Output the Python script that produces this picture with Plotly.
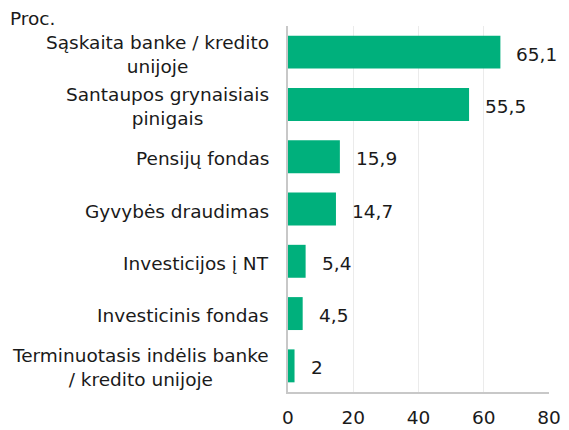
import plotly.graph_objects as go

categories = [
    "Sąskaita banke / kredito<br>unijoje",
    "Santaupos grynaisiais<br>pinigais",
    "Pensijų fondas",
    "Gyvybės draudimas",
    "Investicijos į NT",
    "Investicinis fondas",
    "Terminuotasis indėlis banke<br>/ kredito unijoje",
]
values = [65.1, 55.5, 15.9, 14.7, 5.4, 4.5, 2]
value_labels = ["65,1", "55,5", "15,9", "14,7", "5,4", "4,5", "2"]
x_ticks = [0, 20, 40, 60, 80]

FONT = "DejaVu Sans, Verdana, sans-serif"
FS = 18.5
GREEN = "#00B07C"
TXT = "#1a1a1a"

# page body has an 8px margin; keep the figure inside the visible content width
W, H = 553, 422
L, R, T, B = 280, 12, 18, 38
PW = W - L - R
PH = H - T - B

ys = list(range(len(categories)))

fig = go.Figure(
    go.Bar(
        x=values,
        y=ys,
        orientation="h",
        marker=dict(color=GREEN, line=dict(width=0)),
        width=0.63,
        hoverinfo="skip",
    )
)

annotations = []
for i, (cat, v, lab) in enumerate(zip(categories, values, value_labels)):
    annotations.append(dict(
        x=v, y=i, xref="x", yref="y", text=lab, showarrow=False,
        xanchor="left", yanchor="middle", xshift=14, yshift=-2,
        font=dict(family=FONT, size=FS, color=TXT),
    ))
    annotations.append(dict(
        x=0, y=i, xref="paper", yref="y", text=cat, showarrow=False,
        xanchor="right", yanchor="middle", align="center", xshift=-17, yshift=-2,
        font=dict(family=FONT, size=FS, color=TXT),
    ))

annotations.append(dict(
    x=-L / PW, y=1 + 7.5 / PH, xref="paper", yref="paper", text="Proc.",
    showarrow=False, xanchor="left", yanchor="middle",
    font=dict(family=FONT, size=FS, color=TXT),
))

fig.update_layout(
    width=W, height=H, autosize=False,
    margin=dict(l=L, r=R, t=T, b=B, autoexpand=False),
    paper_bgcolor="white", plot_bgcolor="white",
    showlegend=False,
    annotations=annotations,
    xaxis=dict(
        range=[0, 80], tickvals=x_ticks, ticktext=[str(t) for t in x_ticks],
        automargin=False,
        showgrid=True, gridcolor="#EBEBEB", gridwidth=1,
        showline=True, linecolor="#C8C8C8", linewidth=2,
        zeroline=False, ticks="outside", ticklen=8, tickcolor="rgba(0,0,0,0)",
        tickfont=dict(family=FONT, size=FS, color=TXT),
    ),
    yaxis=dict(
        range=[len(categories) - 0.5, -0.5], showticklabels=False,
        automargin=False,
        showgrid=False, zeroline=False,
        showline=True, linecolor="#C8C8C8", linewidth=2, ticks="",
    ),
)

fig.write_html("out.html", config={"responsive": False})
